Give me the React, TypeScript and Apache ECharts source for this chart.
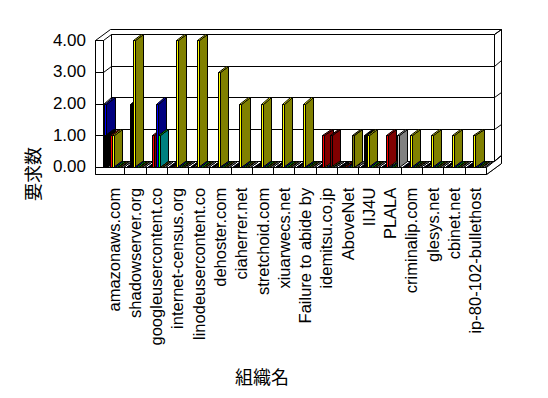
import React, { useEffect, useRef } from "react";
import * as echarts from "echarts";

const categories = [
  "amazonaws.com",
  "shadowserver.org",
  "googleusercontent.co",
  "internet-census.org",
  "linodeusercontent.co",
  "dehoster.com",
  "ciaherrer.net",
  "stretchoid.com",
  "xiuarwecs.net",
  "Failure to abide by",
  "idemitsu.co.jp",
  "AboveNet",
  "IIJ4U",
  "PLALA",
  "criminalip.com",
  "glesys.net",
  "cbinet.net",
  "ip-80-102-bullethost",
];
const yTicks = [0, 1, 2, 3, 4];

const blueA = [2, 0, 0, 0, 0, 0, 0, 0, 0, 0, 0, 0, 0, 0, 0, 0, 0, 0];
const blackA = [1, 0, 0, 0, 0, 0, 0, 0, 0, 0, 0, 0, 0, 0, 0, 0, 0, 0];
const blackB = [0, 2, 0, 0, 0, 0, 0, 0, 0, 0, 0, 0, 1, 0, 0, 0, 0, 0];
const red = [1, 0, 1, 0, 0, 0, 0, 0, 0, 0, 1, 0, 0, 1, 0, 0, 0, 0];
const yellow = [1, 4, 0, 4, 4, 3, 2, 2, 2, 2, 0, 0, 1, 0, 1, 1, 1, 1];
const blueB = [0, 0, 2, 0, 0, 0, 0, 0, 0, 0, 0, 0, 0, 0, 0, 0, 0, 0];
const teal = [0, 0, 1, 0, 0, 0, 0, 0, 0, 0, 0, 0, 0, 0, 0, 0, 0, 0];
const maroon = [0, 0, 0, 0, 0, 0, 0, 0, 0, 0, 1, 0, 0, 0, 0, 0, 0, 0];
const olive = [0, 0, 0, 0, 0, 0, 0, 0, 0, 0, 0, 1, 0, 0, 0, 0, 0, 0];
const gray = [0, 0, 0, 0, 0, 0, 0, 0, 0, 0, 0, 0, 0, 1, 0, 0, 0, 0];

// style: position of each series inside a category band (fraction), colours
const seriesDefs = [
  { name: "s1", values: blueA, pos: 0.07, front: "#0000FF", side: "#000080" },
  { name: "s2", values: blackA, pos: 0.095, front: "#000000", side: "#000000" },
  { name: "s3", values: blackB, pos: 0.26, front: "#000000", side: "#000000" },
  { name: "s4", values: red, pos: 0.315, front: "#FF0000", side: "#800000" },
  { name: "s5", values: yellow, pos: 0.414, front: "#FFFF00", side: "#808000" },
  { name: "s6", values: blueB, pos: 0.47, front: "#0000FF", side: "#000080" },
  { name: "s7", values: teal, pos: 0.565, front: "#00FF00", side: "#008080" },
  { name: "s8", values: maroon, pos: 0.68, front: "#800000", side: "#800000" },
  { name: "s9", values: olive, pos: 0.69, front: "#808000", side: "#808000" },
  { name: "s10", values: gray, pos: 0.83, front: "#C0C0C0", side: "#808080" },
];

const DX1 = 8.2;
const DY1 = -6.2;
const DX2 = 15.2;
const DY2 = -11.6;
const WALL = 8.5;
const FLOOR = 7.6;
const WF = 2;
const LATIN = '"Liberation Sans", Arial, sans-serif';
const CJK = '"Noto Sans CJK JP", sans-serif';

const r = (n: number) => Math.round(n) + 0.5;
const poly = (pts: number[][], fill: string) => ({
  type: "polygon",
  shape: { points: pts.map((p) => [r(p[0]), r(p[1])]) },
  style: { fill, stroke: "#000", lineWidth: 1 },
});
const line = (x1: number, y1: number, x2: number, y2: number) => ({
  type: "line",
  shape: { x1: r(x1), y1: r(y1), x2: r(x2), y2: r(y2) },
  style: { stroke: "#000", lineWidth: 1, fill: null },
});

const frameRender = (_params: any, api: any) => {
  const band = api.size([1, 0])[0];
  const n = categories.length;
  const xL = api.coord([0, 0])[0] - band / 2;
  const xR = api.coord([n - 1, 0])[0] + band / 2;
  const yAt = (v: number) => api.coord([0, v])[1];
  const y0 = yAt(yTicks[0]);
  const yT = yAt(yTicks[yTicks.length - 1]);
  const ch: any[] = [];
  ch.push(
    poly(
      [
        [xL - WALL, yT],
        [xL - WALL + DX2, yT + DY2],
        [xR + DX2, yT + DY2],
        [xR + DX2, y0 + FLOOR + DY2],
        [xR, y0 + FLOOR],
        [xL - WALL, y0 + FLOOR],
      ],
      "#fff"
    )
  );
  ch.push(
    poly(
      [
        [xL + DX1, yT + DY1],
        [xR + DX1, yT + DY1],
        [xR + DX1, y0 + DY1],
        [xL + DX1, y0 + DY1],
      ],
      "#fff"
    )
  );
  ch.push(
    poly(
      [
        [xL, y0],
        [xL + DX1, y0 + DY1],
        [xR + DX1, y0 + DY1],
        [xR, y0],
      ],
      "#fff"
    )
  );
  ch.push(
    poly(
      [
        [xL - WALL, yT],
        [xL, yT],
        [xL, y0],
        [xL - WALL, y0],
      ],
      "#fff"
    )
  );
  ch.push(
    poly(
      [
        [xL - WALL, y0],
        [xR, y0],
        [xR, y0 + FLOOR],
        [xL - WALL, y0 + FLOOR],
      ],
      "#fff"
    )
  );
  ch.push(
    poly(
      [
        [xR + DX1, yT + DY1],
        [xR + DX2, yT + DY2],
        [xR + DX2, y0 + DY2],
        [xR + DX1, y0 + DY1],
      ],
      "#fff"
    )
  );
  ch.push(
    poly(
      [
        [xR, y0],
        [xR + DX2, y0 + DY2],
        [xR + DX2, y0 + FLOOR + DY2],
        [xR, y0 + FLOOR],
      ],
      "#fff"
    )
  );
  yTicks.forEach((v) => {
    const y = yAt(v);
    ch.push(line(xL - WALL, y, xL, y));
    ch.push(line(xL, y, xL + DX1, y + DY1));
    ch.push(line(xL + DX1, y + DY1, xR + DX1, y + DY1));
    ch.push(line(xR + DX1, y + DY1, xR + DX2, y + DY2));
  });
  for (let k = 1; k < n; k++) {
    const x = xL + k * band;
    ch.push(line(x, y0, x, y0 + FLOOR));
  }
  return { type: "group", children: ch };
};

const makeBarRender = (def: any) => (_params: any, api: any) => {
  const i = api.value(0);
  const v = api.value(1);
  const band = api.size([1, 0])[0];
  const c0 = api.coord([i, 0]);
  const c1 = api.coord([i, v]);
  const x0 = c0[0] - band / 2 + def.pos * band;
  const y0 = c0[1];
  const y1 = c1[1];
  const ch: any[] = [];
  ch.push(
    poly(
      [
        [x0 + WF, y1],
        [x0 + WF + DX1, y1 + DY1],
        [x0 + WF + DX1, y0 + DY1],
        [x0 + WF, y0],
      ],
      def.side
    )
  );
  if (v > 0) {
    ch.push(
      poly(
        [
          [x0, y1],
          [x0 + WF, y1],
          [x0 + WF, y0],
          [x0, y0],
        ],
        def.front
      )
    );
  }
  ch.push(
    poly(
      [
        [x0, y1],
        [x0 + DX1, y1 + DY1],
        [x0 + WF + DX1, y1 + DY1],
        [x0 + WF, y1],
      ],
      def.front
    )
  );
  return { type: "group", children: ch };
};

export default function App() {
  const ref = useRef<HTMLDivElement>(null);
  useEffect(() => {
    document.body.style.margin = "0";
    document.body.style.overflow = "hidden";
    if (!ref.current) return;
    const chart = echarts.init(ref.current, null, { renderer: "svg" });
    const option: any = {
      animation: false,
      backgroundColor: "#ffffff",
      grid: { left: 103, top: 40.3, width: 382.8, height: 126.4 },
      xAxis: {
        type: "category",
        data: categories,
        axisLine: { show: false },
        axisTick: { show: false },
        splitLine: { show: false },
        axisLabel: {
          rotate: 90,
          interval: 0,
          margin: 21,
          fontSize: 16.5,
          fontFamily: LATIN,
          color: "#000",
        },
      },
      yAxis: {
        type: "value",
        min: 0,
        max: 4,
        interval: 1,
        axisLine: { show: false },
        axisTick: { show: false },
        splitLine: { show: false },
        axisLabel: {
          margin: 17,
          fontSize: 17,
          fontFamily: LATIN,
          color: "#000",
          formatter: (v: number) => v.toFixed(2),
        },
      },
      graphic: [
        {
          type: "text",
          x: 262,
          y: 376,
          style: {
            text: "組織名",
            font: `18px ${CJK}`,
            fill: "#000",
            align: "center",
            verticalAlign: "middle",
            textAlign: "center",
            textVerticalAlign: "middle",
          },
        },
        {
          type: "text",
          x: 32,
          y: 174,
          rotation: Math.PI / 2,
          style: {
            text: "要求数",
            font: `18px ${CJK}`,
            fill: "#000",
            align: "center",
            verticalAlign: "middle",
            textAlign: "center",
            textVerticalAlign: "middle",
          },
        },
      ],
      series: [
        {
          type: "custom",
          name: "frame",
          clip: false,
          silent: true,
          data: [[0, 0]],
          renderItem: frameRender,
          z: 1,
        },
        ...seriesDefs.map((def) => ({
          type: "custom",
          name: def.name,
          clip: false,
          data: def.values.map((v, i) => [i, v]),
          encode: { x: 0, y: 1 },
          renderItem: makeBarRender(def),
          z: 2,
        })),
      ],
    };
    chart.setOption(option);
    return () => chart.dispose();
  }, []);
  return <div ref={ref} style={{ width: 548, height: 398 }} />;
}
